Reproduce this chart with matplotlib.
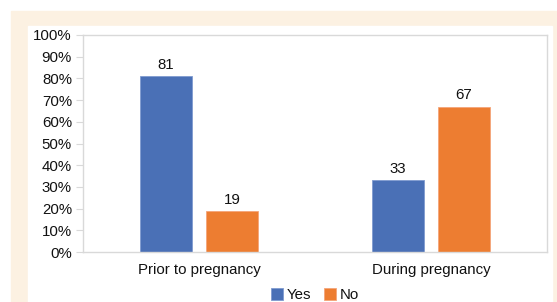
import matplotlib
matplotlib.use('Agg')
import matplotlib.pyplot as plt
from matplotlib.patches import Rectangle
import numpy as np

categories = ['Prior to pregnancy', 'During pregnancy']
yes_vals = [81, 33]
no_vals = [19, 67]
y_ticks = [0, 10, 20, 30, 40, 50, 60, 70, 80, 90, 100]

BLUE = '#4a70b6'
ORANGE = '#ed7d31'
BEIGE = '#fcf1e2'
GRID = '#d9d9d9'
TEXT = '#111111'

plt.rcParams['font.family'] = ['Liberation Sans', 'DejaVu Sans']

W, H = 557, 302
fig = plt.figure(figsize=(W / 100, H / 100), dpi=100)
fig.patch.set_facecolor('white')

# beige frame and white inner panel, kept behind the axes
fig.patches.append(Rectangle((11 / W, 0), 546 / W, (H - 11) / H,
                             transform=fig.transFigure, color=BEIGE, zorder=-10))
fig.patches.append(Rectangle((28 / W, 0), (552 - 28) / W, (H - 26) / H,
                             transform=fig.transFigure, color='white', zorder=-9))

ax = fig.add_axes([83 / W, 50 / H, 464 / W, 217 / H])
ax.set_facecolor('white')

x = np.arange(len(categories))
bw = 0.224
off = 0.142
b1 = ax.bar(x - off, yes_vals, bw, color=BLUE, edgecolor='#7f9bd0', linewidth=0.6, label='Yes')
b2 = ax.bar(x + off, no_vals, bw, color=ORANGE, edgecolor='#f4a57a', linewidth=0.6, label='No')

for bars, vals in ((b1, yes_vals), (b2, no_vals)):
    for b, v in zip(bars, vals):
        ax.annotate(str(v), (b.get_x() + b.get_width() / 2, v),
                    xytext=(0, 3), textcoords='offset points',
                    ha='center', va='bottom', fontsize=10.8, color=TEXT)

ax.set_xlim(-0.5, 1.5)
ax.set_ylim(0, 100)
ax.set_yticks(y_ticks)
ax.set_yticklabels([f'{t}%' for t in y_ticks])
ax.set_xticks(x)
ax.set_xticklabels(categories)

ax.tick_params(axis='y', length=5, color=GRID, labelsize=10.8, labelcolor=TEXT, pad=3)
ax.tick_params(axis='x', length=0, labelsize=10.8, labelcolor=TEXT, pad=8)
for s in ax.spines.values():
    s.set_color(GRID)
    s.set_linewidth(1.0)

fig.legend(handles=[b1, b2], labels=['Yes', 'No'], loc='center',
           bbox_to_anchor=(315 / W, 1 - 295 / H), ncol=2, frameon=False,
           fontsize=10.8, handlelength=0.8, handleheight=0.8,
           handletextpad=0.3, columnspacing=0.8, labelcolor=TEXT)

fig.savefig('out.png', dpi=100)
